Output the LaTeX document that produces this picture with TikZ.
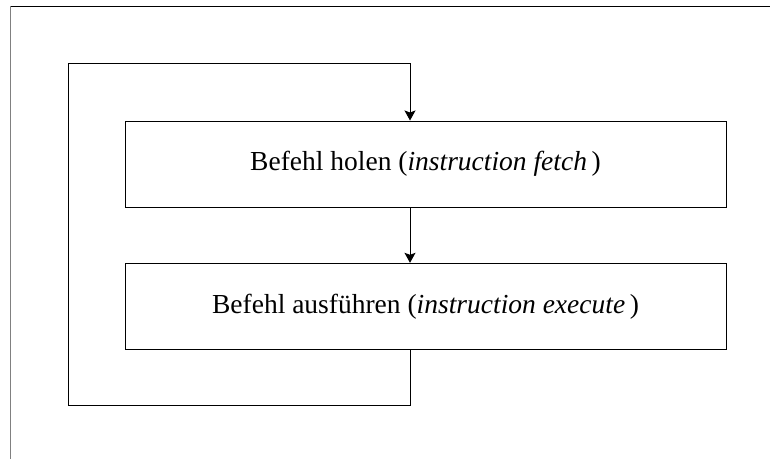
\documentclass[tikz,border=0pt]{standalone}
\usepackage{fontspec}
\setmainfont{Liberation Serif}
\usetikzlibrary{arrows.meta}
\begin{document}
\begin{tikzpicture}[x=1pt, y=-1pt,
  stepbox/.style={draw, line width=1pt, minimum width=601pt, minimum height=86pt,
    inner sep=0pt, font=\fontsize{27.5}{33}\selectfont},
  flow/.style={line width=1pt, -{Stealth[length=10pt, width=11pt, inset=2pt]}}]
  \useasboundingbox (0,0) rectangle (770,459);
  % page frame: top and left edge only
  \draw[line width=1pt] (10.7,6.3) -- (770,6.3);
  \draw[gray, line width=1pt] (10.7,6.3) -- (10.7,459);
  % the two steps of the cycle
  \node[stepbox] (fetch) at (425.5,164) {Befehl holen (\textit{instruction fetch}\,)};
  \node[stepbox] (exec) at (425.5,306.3) {Befehl ausführen (\textit{instruction execute}\,)};
  % helper points for the return loop
  \coordinate (spine) at (410,0);
  \coordinate (loopbot) at (410,405.7);
  \coordinate (looptl) at (68,63.5);
  \draw[flow] (fetch.south -| spine) -- (exec.north -| spine);
  \draw[flow] (exec.south -| spine) -- (loopbot) -| (looptl) -| (fetch.north -| spine);
\end{tikzpicture}
\end{document}
